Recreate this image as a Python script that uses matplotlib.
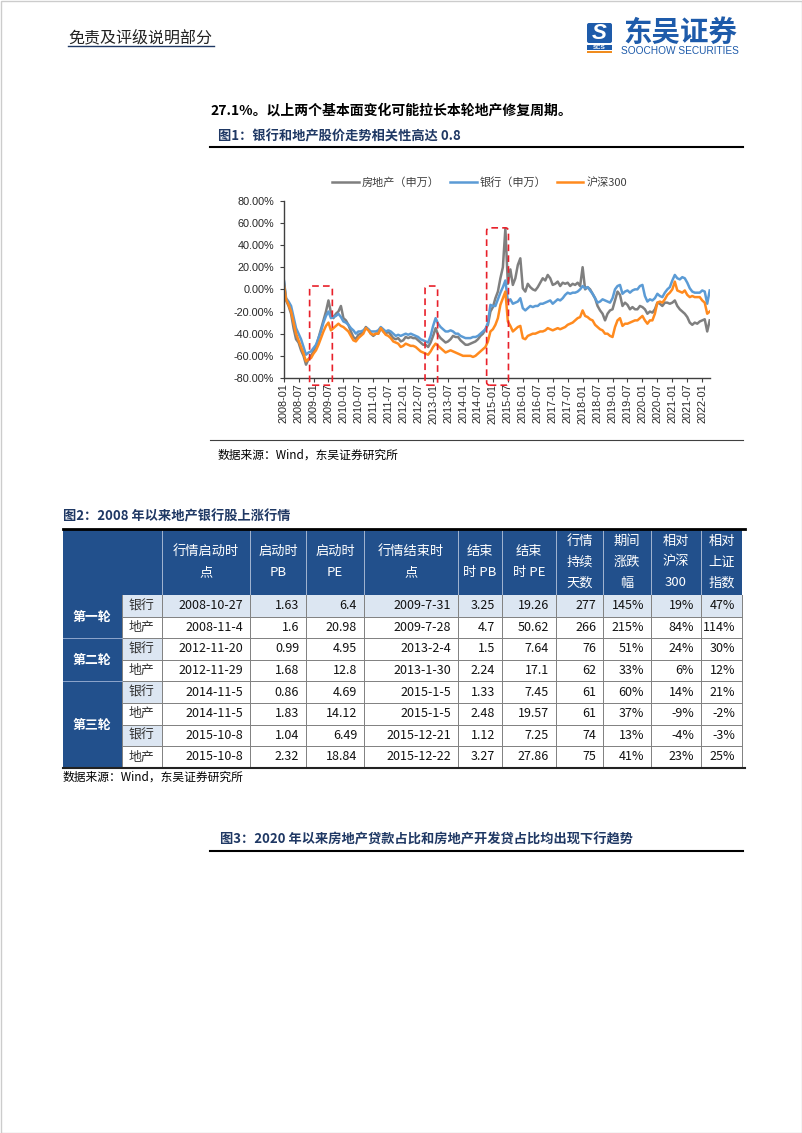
import matplotlib

matplotlib.use("Agg")
import matplotlib.pyplot as plt
import numpy as np
from matplotlib.patches import FancyBboxPatch, Rectangle
from matplotlib.ticker import FuncFormatter

plt.rcParams["font.family"] = ["Noto Sans CJK SC", "DejaVu Sans"]

W, H = 802, 1133

# ---- chart 1: monthly index change vs 2008-01 (%), 2008-01 .. 2022-04
START_YEAR = 2008
realty = [
    10, -10, -15, -22, -35, -45, -48, -55, -60, -68, -63, -60,
    -56, -52, -44, -36, -28, -20, -10, -21, -26, -22, -20, -15,
    -26, -28, -32, -38, -43, -45, -41, -40, -38, -34, -36, -40,
    -42, -40, -40, -35, -38, -40, -38, -41, -44, -45, -44, -47,
    -46, -43, -44, -43, -44, -44, -46, -48, -50, -50, -52, -48,
    -42, -35, -41, -44, -46, -48, -47, -45, -42, -43, -43, -46,
    -48, -50, -50, -49, -48, -47, -45, -42, -40, -36, -32, -20,
    -16, -8, -2, 10, 20, 55, 5, 18, 4, 10, 22, 28,
    1, -2, 5, 2, 0, -1, 2, 6, 10, 8, 13, 10,
    4, 5, 7, 3, 6, 5, 6, 3, 5, 4, 6, 3,
    20, 0, 2, 0, -4, -8, -15, -19, -22, -28, -22, -19,
    -18, -10, -2, -5, -15, -12, -14, -18, -16, -18, -18, -15,
    -16, -18, -22, -20, -21, -18, -12, -13, -15, -12, -12, -13,
    -12, -10, -15, -18, -20, -22, -25, -30, -32, -30, -31, -29,
    -28, -27, -38, -28,
]
bank = [
    10, -8, -11, -15, -25, -35, -40, -45, -52, -59, -57, -56,
    -53, -50, -44, -38, -30, -24, -20, -26, -25, -24, -22, -25,
    -29, -30, -32, -35, -37, -40, -38, -38, -37, -35, -36, -38,
    -38, -38, -37, -34, -36, -38, -37, -38, -40, -42, -41, -42,
    -41, -40, -41, -40, -41, -42, -43, -45, -46, -47, -48, -42,
    -33, -26, -31, -34, -36, -38, -38, -37, -38, -40, -40, -42,
    -43, -44, -44, -44, -43, -43, -42, -40, -38, -36, -30, -14,
    -15, -15, -9, -3, 2, 8, -11, -9, -13, -12, -11, -8,
    -17, -19, -17, -15, -16, -15, -15, -13, -13, -12, -11, -10,
    -13, -11, -9, -10, -8, -5, -3, -4, -3, -3, -2, 0,
    3, 1, 2, -1, -4, -8, -12, -11, -9, -10, -11, -12,
    -8, 0, 3, 4, -4, -2, -1, -3, -1, 0, 0, 3,
    4, -6, -11, -9, -10, -8, -4, -6, -7, -3, 0, 2,
    8, 13, 10, 9, 11, 10, 6, 1, -2, -3, -3, -3,
    -1, -2, -13, -1,
]
csi300 = [
    6, -9, -14, -20, -30, -40, -46, -52, -58, -65, -63, -62,
    -58, -55, -50, -44, -38, -33, -30, -37, -35, -33, -31, -33,
    -34, -36, -38, -42, -46, -47, -44, -42, -40, -35, -37, -40,
    -41, -40, -40, -35, -38, -41, -42, -44, -47, -48, -49, -52,
    -51, -49, -50, -51, -51, -52, -54, -56, -57, -58, -59, -56,
    -52, -49, -51, -53, -55, -57, -56, -55, -56, -57, -58, -59,
    -60, -60, -60, -60, -61, -60, -58, -56, -54, -52, -47, -38,
    -36, -32, -26, -14, -8, -2, -29, -33, -38, -36, -34, -33,
    -44, -45, -42, -41, -40, -40, -39, -38, -38, -37, -35, -36,
    -37, -36, -35, -36, -35, -34, -32, -31, -30, -28, -26, -25,
    -19, -24, -25, -27, -28, -32, -34, -36, -37, -40, -40, -42,
    -43, -34, -28, -26, -33, -31, -31, -30, -29, -28, -28, -26,
    -24, -28, -31, -28, -28, -22, -12, -11, -12, -9, -5, -3,
    0, 7, -1, -2, -3, -1, -5, -7, -6, -7, -7, -7,
    -10, -12, -22, -20,
]
series = [realty, bank, csi300]
series_names = ["房地产（申万）", "银行（申万）", "沪深300"]
series_colors = ["#7F7F7F", "#5B9BD5", "#FF8A1E"]
x_tick_labels = [f"{y}-{m:02d}" for y in range(2008, 2023) for m in (1, 7)][:-1]
# highlighted rally windows: (start year, end year, top %)
highlights = [(2008.87, 2009.63, 3), (2012.73, 2013.15, 3), (2014.79, 2015.52, 55.5)]

# ---- table 2
table_header = [
    "行情启动时\n点", "启动时\nPB", "启动时\nPE", "行情结束时\n点", "结束\n时 PB",
    "结束\n时 PE", "行情\n持续\n天数", "期间\n涨跌\n幅", "相对\n沪深\n300", "相对\n上证\n指数",
]
rounds = ["第一轮", "第二轮", "第三轮"]
round_rows = [2, 2, 4]
sectors = ["银行", "地产", "银行", "地产", "银行", "地产", "银行", "地产"]
start_dates = ["2008-10-27", "2008-11-4", "2012-11-20", "2012-11-29",
               "2014-11-5", "2014-11-5", "2015-10-8", "2015-10-8"]
start_pb = ["1.63", "1.6", "0.99", "1.68", "0.86", "1.83", "1.04", "2.32"]
start_pe = ["6.4", "20.98", "4.95", "12.8", "4.69", "14.12", "6.49", "18.84"]
end_dates = ["2009-7-31", "2009-7-28", "2013-2-4", "2013-1-30",
             "2015-1-5", "2015-1-5", "2015-12-21", "2015-12-22"]
end_pb = ["3.25", "4.7", "1.5", "2.24", "1.33", "2.48", "1.12", "3.27"]
end_pe = ["19.26", "50.62", "7.64", "17.1", "7.45", "19.57", "7.25", "27.86"]
days = ["277", "266", "76", "62", "61", "61", "74", "75"]
change = ["145%", "215%", "51%", "33%", "60%", "37%", "13%", "41%"]
rel_hs300 = ["19%", "84%", "24%", "6%", "14%", "-9%", "-4%", "23%"]
rel_sh = ["47%", "114%", "30%", "12%", "21%", "-2%", "-3%", "25%"]

NAVY = "#1F3864"
HEAD_BLUE = "#22508C"
LIGHT_BLUE = "#DCE6F2"
LOGO_BLUE = "#1E5BAA"

fig = plt.figure(figsize=(W / 100, H / 100), dpi=100)
ov = fig.add_axes([0, 0, 1, 1], zorder=0)
ov.set_xlim(0, W)
ov.set_ylim(H, 0)
ov.axis("off")

ov.add_patch(Rectangle((0.5, 0.5), W - 1, H - 1, fill=False, ec="#CCCCCC", lw=1))

# ---- header
ov.text(68, 38, "免责及评级说明部分", fontsize=11.5, va="center", color="#222222")
ov.plot([68, 214], [46, 46], color=NAVY, lw=1)
ov.add_patch(FancyBboxPatch((587, 23), 25, 20, boxstyle="round,pad=0,rounding_size=2",
                            fc=LOGO_BLUE, ec="none"))
ov.text(599.5, 33.5, "S", color="white", fontsize=16, fontweight="bold", style="italic",
        ha="center", va="center", family="Liberation Sans")
ov.add_patch(Rectangle((587, 45), 25, 5, fc=LOGO_BLUE, ec="none"))
ov.text(599.5, 47.6, "SCS", color="white", fontsize=4.5, fontweight="bold",
        ha="center", va="center", family="Liberation Sans")
ov.add_patch(Rectangle((587, 51), 25, 1.6, fc="#F08C1E", ec="none"))
ov.text(680, 33, "东吴证券", color=LOGO_BLUE, fontsize=20.5, fontweight="bold",
        ha="center", va="center")
ov.text(680, 51, "SOOCHOW SECURITIES", color=LOGO_BLUE, fontsize=7.3,
        ha="center", va="center", family="Liberation Sans")

# ---- figure 1 frame
ov.text(210, 111, "27.1%。以上两个基本面变化可能拉长本轮地产修复周期。", fontsize=10,
        fontweight="bold", va="center")
ov.text(218, 136, "图1：银行和地产股价走势相关性高达 0.8", fontsize=9.5, fontweight="bold",
        color=NAVY, va="center")
ov.plot([210, 743], [147, 147], color="black", lw=1.5)
ov.plot([210, 743], [440, 440], color="#404040", lw=0.8)
ov.text(218, 455, "数据来源：Wind，东吴证券研究所", fontsize=8.5, va="center")

ax = fig.add_axes([283.6 / W, 1 - 378 / H, 426.4 / W, 177.3 / H], zorder=1)
ax.patch.set_alpha(0)
x = START_YEAR + np.arange(len(realty)) / 12
for vals, name, color in zip(series, series_names, series_colors):
    ax.plot(x, vals, color=color, lw=1.8, label=name)
for x0, x1, top in highlights:
    ax.add_patch(FancyBboxPatch((x0, -86.5), x1 - x0, top + 86.5,
                                boxstyle="round,pad=0,rounding_size=0.1", mutation_aspect=27,
                                fill=False, ec="#E8202A", lw=1.2, ls=(0, (4, 2.5)),
                                clip_on=False, zorder=5))
ax.set_xlim(2008, 2022.26)
ax.set_ylim(-80, 80)
ax.set_xticks(2008 + 0.5 * np.arange(len(x_tick_labels)))
ax.set_xticklabels(x_tick_labels, rotation=90)
ax.set_yticks(np.arange(-80, 81, 20))
ax.yaxis.set_major_formatter(FuncFormatter(lambda v, _: f"{v:.2f}%"))
for side in ("top", "right"):
    ax.spines[side].set_visible(False)
for side in ("left", "bottom"):
    ax.spines[side].set_color("#404040")
    ax.spines[side].set_linewidth(1)
ax.tick_params(axis="y", length=3, width=0.8, color="#404040", pad=4,
               labelsize=7.8, labelcolor="#262626", labelfontfamily="Liberation Sans")
ax.tick_params(axis="x", length=3, width=0.8, color="#404040", pad=1,
               labelsize=7.8, labelcolor="#262626", labelfontfamily="Liberation Sans")
ax.legend(loc="center", bbox_to_anchor=(0.46, 1.10), ncol=3, frameon=False, fontsize=8,
          handlelength=2.4, handletextpad=0.3, columnspacing=0.9, labelcolor="#404040")

# ---- table 2
ov.text(63, 516, "图2：2008 年以来地产银行股上涨行情", fontsize=9.5, fontweight="bold",
        color=NAVY, va="center")
col_edges = [63, 121.5, 162, 250, 306, 364, 458, 502, 556, 603, 651, 701, 742]
head_top, head_bot = 529, 595
row_h = 21.6
n_rows = len(sectors)
body_bot = head_bot + n_rows * row_h

ov.add_patch(Rectangle((col_edges[0], head_top), col_edges[-1] - col_edges[0],
                       head_bot - head_top, fc=HEAD_BLUE, ec="none"))
ov.add_patch(Rectangle((col_edges[0], head_bot), col_edges[1] - col_edges[0],
                       body_bot - head_bot, fc=HEAD_BLUE, ec="none"))
for ce in col_edges[2:-1]:
    ov.plot([ce, ce], [head_top, head_bot], color="#B8C6DD", lw=0.6)
for j, label in enumerate(table_header):
    lines = label.split("\n")
    cx = (col_edges[j + 2] + col_edges[j + 3]) / 2
    for k, line in enumerate(lines):
        y = (head_top + head_bot) / 2 + (k - (len(lines) - 1) / 2) * 21
        ov.text(cx, y, line, color="white", fontsize=9.5, fontweight="medium",
                ha="center", va="center")

columns = [start_dates, start_pb, start_pe, end_dates, end_pb, end_pe,
           days, change, rel_hs300, rel_sh]
for i in range(n_rows):
    top = head_bot + i * row_h
    if i == 0:
        ov.add_patch(Rectangle((col_edges[1], top), col_edges[-1] - col_edges[1], row_h,
                               fc=LIGHT_BLUE, ec="none"))
    elif sectors[i] == "银行":
        ov.add_patch(Rectangle((col_edges[1], top), col_edges[2] - col_edges[1], row_h,
                               fc=LIGHT_BLUE, ec="none"))
    cy = top + row_h / 2
    ov.text((col_edges[1] + col_edges[2]) / 2, cy, sectors[i], fontsize=9.3,
            ha="center", va="center", color="#333333")
    for j, col in enumerate(columns):
        ov.text(col_edges[j + 3] - 7, cy, col[i], fontsize=9, ha="right", va="center",
                color="#111111")
    if i > 0:
        ov.plot([col_edges[1], col_edges[-1]], [top, top], color="#808080", lw=0.7)

for ce in col_edges[2:]:
    ov.plot([ce, ce], [head_bot, body_bot], color="#808080", lw=0.7)
ov.plot([col_edges[1], col_edges[1]], [head_bot, body_bot], color="#808080", lw=0.7)

r0 = 0
for name, span in zip(rounds, round_rows):
    top = head_bot + r0 * row_h
    ov.text((col_edges[0] + col_edges[1]) / 2, top + span * row_h / 2, name, color="white",
            fontsize=9.3, fontweight="bold", ha="center", va="center")
    if r0 > 0:
        ov.plot([col_edges[0], col_edges[1]], [top, top], color="#8FA6CC", lw=0.7)
    r0 += span

ov.plot([col_edges[0], 745], [head_top, head_top], color="black", lw=2)
ov.plot([col_edges[0], 745], [body_bot, body_bot], color="#222222", lw=1.5)
ov.text(63, 777, "数据来源：Wind，东吴证券研究所", fontsize=8.5, va="center")

# ---- figure 3 caption
ov.text(220, 839, "图3：2020 年以来房地产贷款占比和房地产开发贷占比均出现下行趋势",
        fontsize=9.5, fontweight="bold", color=NAVY, va="center")
ov.plot([210, 743], [851, 851], color="black", lw=1.5)

fig.savefig("out.png", dpi=100)
